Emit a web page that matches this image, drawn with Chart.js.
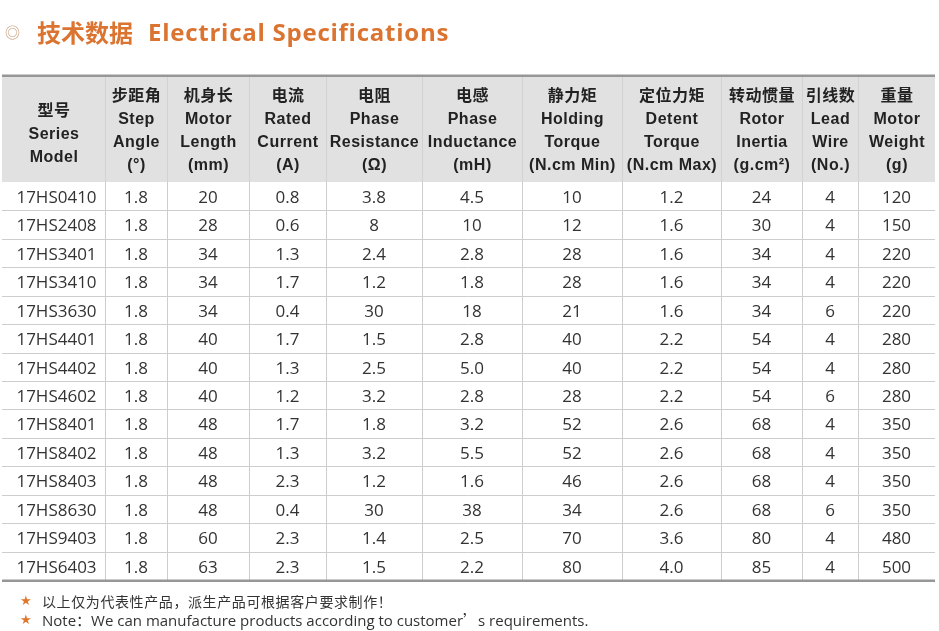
<!DOCTYPE html>
<html>
<head>
<meta charset="utf-8">
<script src="https://cdn.jsdelivr.net/npm/chart.js@4.4.1/dist/chart.umd.min.js"></script>
<style>
  html, body { margin:0; padding:0; background:#fff; }
  #wrap { position:relative; width:939px; height:631px; overflow:hidden; background:#fff; }
  #c { position:absolute; left:0; top:0; }
  .title { position:absolute; left:0; top:16px; height:32px; line-height:32px; white-space:nowrap; }
  .title .ico { position:absolute; left:5px; top:0; font-size:15px; color:#c49a76; font-family:"Noto Sans CJK SC"; }
  .title .cn { position:absolute; left:37px; top:0; font-size:24px; font-weight:bold; color:#db7430; font-family:"Noto Sans CJK SC"; }
  .title .en { position:absolute; left:148px; top:0; font-size:24px; font-weight:bold; color:#db7430; font-family:"Open Sans"; letter-spacing:0.75px; }
  .note { position:absolute; left:0; height:20px; line-height:20px; white-space:nowrap; color:#333; }
  .note .star { position:absolute; left:20px; top:0; color:#e0762a; font-size:13px; font-family:"DejaVu Sans"; }
  .note .txt { position:absolute; left:42px; top:0; }
  .n1 { top:591px; } .n1 .txt { font-family:"Noto Sans CJK SC"; font-size:14px; letter-spacing:0.6px; }
  .n2 { top:610px; } .n2 .txt { font-family:"Open Sans"; font-size:15px; }
  .cjk { font-family:"Noto Sans CJK SC"; }
</style>
</head>
<body>
<div id="wrap">
  <canvas id="c" width="939" height="631"></canvas>
  <div class="title"><span class="ico">◎</span><span class="cn">技术数据</span><span class="en">Electrical Specifications</span></div>
  <div class="note n1"><span class="star">★</span><span class="txt">以上仅为代表性产品，派生产品可根据客户要求制作！</span></div>
  <div class="note n2"><span class="star">★</span><span class="txt">Note<span class="cjk">：</span>We can manufacture products according to customer<span class="cjk">’</span>s requirements.</span></div>
</div>
<script>
// ---- data ----
const models = ['17HS0410','17HS2408','17HS3401','17HS3410','17HS3630','17HS4401','17HS4402','17HS4602','17HS8401','17HS8402','17HS8403','17HS8630','17HS9403','17HS6403'];
const stepAngle = ['1.8','1.8','1.8','1.8','1.8','1.8','1.8','1.8','1.8','1.8','1.8','1.8','1.8','1.8'];
const motorLength = [20,28,34,34,34,40,40,40,48,48,48,48,60,63];
const ratedCurrent = ['0.8','0.6','1.3','1.7','0.4','1.7','1.3','1.2','1.7','1.3','2.3','0.4','2.3','2.3'];
const phaseResistance = ['3.8','8','2.4','1.2','30','1.5','2.5','3.2','1.8','3.2','1.2','30','1.4','1.5'];
const phaseInductance = ['4.5','10','2.8','1.8','18','2.8','5.0','2.8','3.2','5.5','1.6','38','2.5','2.2'];
const holdingTorque = [10,12,28,28,21,40,40,28,52,52,46,34,70,80];
const detentTorque = ['1.2','1.6','1.6','1.6','1.6','2.2','2.2','2.2','2.6','2.6','2.6','2.6','3.6','4.0'];
const rotorInertia = [24,30,34,34,34,54,54,54,68,68,68,68,80,85];
const leadWire = [4,4,4,4,6,4,4,6,4,4,4,6,4,4];
const motorWeight = [120,150,220,220,220,280,280,280,350,350,350,350,480,500];

const headerCN = ['型号','步距角','机身长','电流','电阻','电感','静力矩','定位力矩','转动惯量','引线数','重量'];
const headerEN = [
  ['Series','Model'],
  ['Step','Angle','(°)'],
  ['Motor','Length','(mm)'],
  ['Rated','Current','(A)'],
  ['Phase','Resistance','(Ω)'],
  ['Phase','Inductance','(mH)'],
  ['Holding','Torque','(N.cm Min)'],
  ['Detent','Torque','(N.cm Max)'],
  ['Rotor','Inertia','(g.cm²)'],
  ['Lead','Wire','(No.)'],
  ['Motor','Weight','(g)']
];
const columns = [models, stepAngle, motorLength, ratedCurrent, phaseResistance, phaseInductance, holdingTorque, detentTorque, rotorInertia, leadWire, motorWeight];

// ---- layout (not data) ----
const colWidths = [103,62,82,77,96,100,100,99,81,56,77];
const colEdges = [0];
colWidths.forEach(w => colEdges.push(colEdges[colEdges.length-1] + w));
const colCenter = c => (colEdges[c] + colEdges[c+1]) / 2;

const tablePlugin = {
  id: 'specTable',
  beforeDatasetsDraw(chart) {
    const ctx = chart.ctx, xs = chart.scales.x, ys = chart.scales.y, a = chart.chartArea;
    const headTop = 77, headBottom = a.top;
    const L = xs.getPixelForValue(colEdges[0]), R = xs.getPixelForValue(colEdges[colEdges.length-1]);
    ctx.save();
    ctx.fillStyle = '#e1e1e1';
    ctx.fillRect(L, headTop, R - L, headBottom - headTop);
    const n = models.length;
    const half = (ys.getPixelForValue(1) - ys.getPixelForValue(0)) / 2;
    ctx.strokeStyle = '#cdcdcd';
    ctx.lineWidth = 1;
    for (let i = 1; i < n; i++) {
      const y = Math.round(ys.getPixelForValue(i) - half) + 0.5;
      ctx.beginPath(); ctx.moveTo(L, y); ctx.lineTo(R, y); ctx.stroke();
    }
    for (let c = 1; c < colEdges.length - 1; c++) {
      const x = Math.round(xs.getPixelForValue(colEdges[c])) + 0.5;
      ctx.strokeStyle = '#d2d2d2';
      ctx.beginPath(); ctx.moveTo(x, headTop); ctx.lineTo(x, headBottom); ctx.stroke();
      ctx.strokeStyle = '#cdcdcd';
      ctx.beginPath(); ctx.moveTo(x, headBottom); ctx.lineTo(x, a.bottom); ctx.stroke();
    }
    ctx.fillStyle = '#979797';
    ctx.fillRect(L, headTop - 2.5, R - L, 2.5);
    ctx.fillRect(L, a.bottom - 0.5, R - L, 2.5);
    ctx.fillStyle = '#222';
    ctx.textAlign = 'center';
    ctx.textBaseline = 'middle';
    for (let c = 0; c < headerCN.length; c++) {
      const lines = [headerCN[c]].concat(headerEN[c]);
      const cx = xs.getPixelForValue(colCenter(c));
      const center = lines.length === 3 ? 133.5 : 130;
      const step = 23.3;
      lines.forEach((t, i) => {
        const y = center + (i - (lines.length - 1) / 2) * step;
        if (i === 0) {
          ctx.font = 'bold 16px "Noto Sans CJK SC"';
          ctx.letterSpacing = '0.5px';
        } else {
          ctx.font = 'bold 16px "Liberation Sans"';
          ctx.letterSpacing = '0.5px';
        }
        ctx.fillText(t, cx + 0.5, y + (i === 0 ? 0 : 1));
      });
    }
    ctx.restore();
  },
  afterDatasetsDraw(chart) {
    const ctx = chart.ctx;
    ctx.save();
    ctx.fillStyle = '#333';
    ctx.font = '17px "Open Sans"';
    ctx.textAlign = 'center';
    ctx.textBaseline = 'middle';
    chart.data.datasets.forEach((ds, di) => {
      const meta = chart.getDatasetMeta(di);
      meta.data.forEach((el, i) => {
        ctx.fillText(String(ds.values[i]), el.x + (di === 0 ? 3 : 0), el.y + 2);
      });
    });
    ctx.restore();
  }
};

const datasets = columns.map((vals, c) => ({
  label: headerEN[c].join(' '),
  values: vals,
  data: models.map(m => ({ x: colCenter(c), y: m })),
  pointRadius: 0,
  pointHoverRadius: 0,
  showLine: false
}));

new Chart(document.getElementById('c'), {
  type: 'scatter',
  data: { labels: models, datasets },
  options: {
    responsive: false,
    animation: false,
    events: [],
    layout: { padding: { top: 182, bottom: 51, left: 2, right: 4 } },
    plugins: { legend: { display: false }, tooltip: { enabled: false }, title: { display: false } },
    scales: {
      x: { type: 'linear', min: colEdges[0], max: colEdges[colEdges.length-1], display: false },
      y: { type: 'category', labels: models, offset: true, display: false }
    }
  },
  plugins: [tablePlugin]
});
</script>
</body>
</html>
